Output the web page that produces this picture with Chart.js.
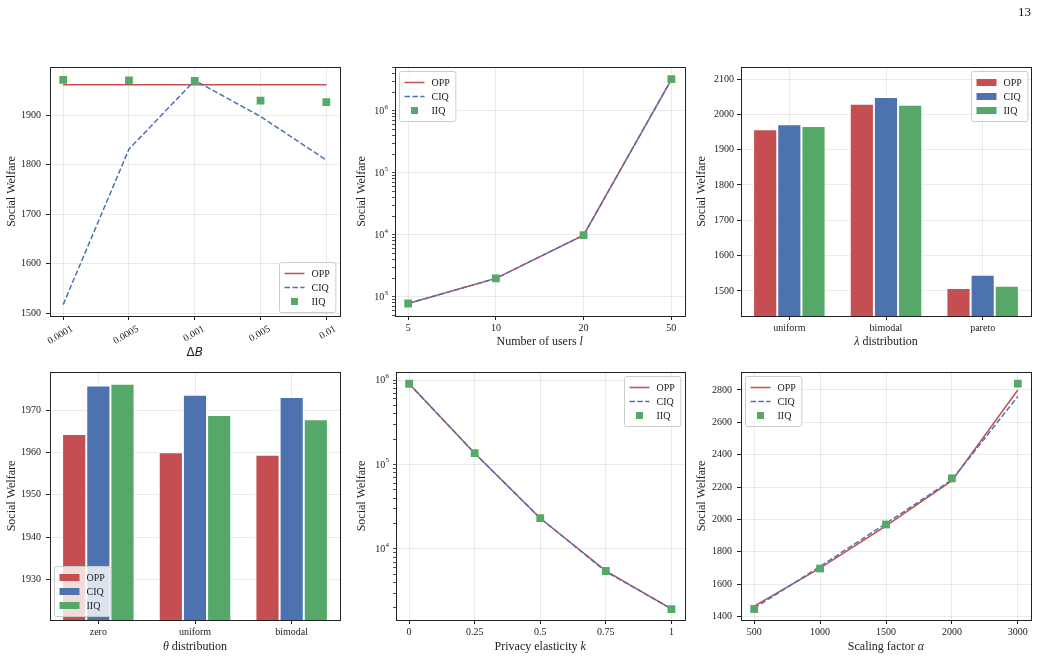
<!DOCTYPE html>
<html><head><meta charset="utf-8">
<script src="https://cdn.jsdelivr.net/npm/chart.js@4.4.1/dist/chart.umd.min.js"></script>
<style>
html,body{margin:0;padding:0;background:#fff;}
body{width:1039px;height:661px;position:relative;overflow:hidden;font-family:"Liberation Serif",serif;}
canvas{position:absolute;}
#pg{position:absolute;left:1018px;top:4px;font-size:13px;color:#111;will-change:transform;}
</style></head><body>
<div id="pg">13</div>
<canvas id="c1" width="345" height="320" style="left:0;top:40px"></canvas>
<canvas id="c2" width="345" height="320" style="left:345px;top:40px"></canvas>
<canvas id="c3" width="349" height="320" style="left:690px;top:40px"></canvas>
<canvas id="c4" width="345" height="301" style="left:0;top:360px"></canvas>
<canvas id="c5" width="345" height="301" style="left:345px;top:360px"></canvas>
<canvas id="c6" width="349" height="301" style="left:690px;top:360px"></canvas>
<script>
// ---------- data ----------
const deltaBLabels = ['0.0001','0.0005','0.001','0.005','0.01'];
const deltaB_OPP = [1961,1961,1961,1961,1961];
const deltaB_CIQ = [1517,1831,1970,1897,1809];
const deltaB_IIQ = [1971,1970,1969,1929,1926];
const deltaB_yTicks = [1500,1600,1700,1800,1900];

const usersLabels = ['5','10','20','50'];
const users_OPP = [780,1980,9900,3.2e6];
const users_CIQ = [780,1980,9900,3.2e6];
const users_IIQ = [780,1980,9900,3.25e6];

const lambdaLabels = ['uniform','bimodal','pareto'];
const lambda_OPP = [1958,2030,1508];
const lambda_CIQ = [1972,2049,1546];
const lambda_IIQ = [1967,2027,1515];
const lambda_yTicks = [1500,1600,1700,1800,1900,2000,2100];

const thetaLabels = ['zero','uniform','bimodal'];
const theta_OPP = [1964.4,1960.1,1959.5];
const theta_CIQ = [1975.9,1973.7,1973.2];
const theta_IIQ = [1976.3,1968.9,1967.9];
const theta_yTicks = [1930,1940,1950,1960,1970];

const kLabels = ['0','0.25','0.5','0.75','1'];
const k_OPP = [904000,136000,23100,5500,1950];
const k_CIQ = [904000,136000,23100,5400,1950];
const k_IIQ = [904000,136000,23100,5480,1940];

const alphaLabels = ['500','1000','1500','2000','3000'];
const alpha_OPP = [1465,1700,1960,2240,2800];
const alpha_CIQ = [1452,1710,1975,2245,2760];
const alpha_IIQ = [1447,1697,1969,2254,2839];
const alpha_yTicks = [1400,1600,1800,2000,2200,2400,2600,2800];

// ---------- style ----------
const SERIF = '"Liberation Serif","Times New Roman",serif';
const SANS = '"DejaVu Sans",sans-serif';
const RED='#C44E52', BLUE='#4C72B0', GREEN='#55A868';
const GRID='rgba(0,0,0,0.1)', INK='#222', NONE='rgba(0,0,0,0)';
const TICKFONT={family:SERIF,size:10};
const TITLEFONT={family:SERIF,size:12};

const framePlugin = {
  id:'frame',
  afterDraw(chart){
    const {ctx, chartArea:a} = chart;
    ctx.save(); ctx.strokeStyle='#222'; ctx.lineWidth=1;
    ctx.strokeRect(Math.round(a.left)+0.5, Math.round(a.top)+0.5, Math.round(a.right-a.left), Math.round(a.bottom-a.top));
    ctx.restore();
  }
};
const legendPlugin = {
  id:'inLegend',
  afterDraw(chart, args, o){
    if(!o || !o.corner) return;
    const ctx=chart.ctx, a=chart.chartArea;
    const fs=10, pad=4, hl=20, gap=7, rowH=14, m=4;
    ctx.save();
    ctx.font = fs+'px '+SERIF;
    const ds = chart.data.datasets;
    let tw=0; ds.forEach(d=>{tw=Math.max(tw, ctx.measureText(d.label).width);});
    const w = pad*2+2+hl+gap+tw+1, h = pad*2+rowH*ds.length;
    const x = Math.round(o.corner[1]==='l' ? a.left+m : a.right-m-w)+0.5;
    const y = Math.round(o.corner[0]==='u' ? a.top+m : a.bottom-m-h)+0.5;
    ctx.beginPath();
    if(ctx.roundRect) ctx.roundRect(x,y,w,h,2); else ctx.rect(x,y,w,h);
    ctx.fillStyle='rgba(255,255,255,0.8)'; ctx.fill();
    ctx.strokeStyle='#cccccc'; ctx.lineWidth=1; ctx.stroke();
    ds.forEach((d,i)=>{
      const cy = y+pad+rowH*(i+0.5);
      const hx = x+pad+1;
      if(chart.config.type==='bar'){
        ctx.fillStyle=d.backgroundColor; ctx.fillRect(hx, cy-3.5, hl, 7);
      } else if(d.showLine===false){
        ctx.fillStyle=d.backgroundColor; ctx.fillRect(hx+hl/2-3.5, cy-3.5, 7, 7);
      } else {
        ctx.strokeStyle=d.borderColor; ctx.lineWidth=d.borderWidth;
        ctx.setLineDash(d.borderDash||[]);
        ctx.beginPath(); ctx.moveTo(hx,cy); ctx.lineTo(hx+hl,cy); ctx.stroke();
        ctx.setLineDash([]);
      }
      ctx.fillStyle=INK; ctx.textBaseline='middle'; ctx.textAlign='left';
      ctx.fillText(d.label, hx+hl+gap, cy+0.5);
    });
    ctx.restore();
  }
};
// x-axis title with mixed upright / italic parts
const mixTitlePlugin = {
  id:'mixTitle',
  afterDraw(chart, args, o){
    if(!o || !o.parts) return;
    const ctx=chart.ctx, a=chart.chartArea;
    ctx.save(); ctx.textBaseline='middle'; ctx.textAlign='left'; ctx.fillStyle=INK;
    const fonts=o.parts.map(p=>(p.i?'italic ':'')+'12px '+(p.f||SERIF));
    let total=0;
    const ws=o.parts.map((p,i)=>{ctx.font=fonts[i];const w=ctx.measureText(p.t).width;total+=w;return w;});
    let x=(a.left+a.right)/2-total/2;
    const y=chart.height-o.fromBottom;
    o.parts.forEach((p,i)=>{ctx.font=fonts[i];ctx.fillText(p.t,x,y);x+=ws[i];});
    ctx.restore();
  }
};
// log-axis labels 10^n with a raised exponent
const logLabelPlugin = {
  id:'logLabels',
  afterDraw(chart){
    const s=chart.scales.y;
    if(!s || s.type!=='logarithmic') return;
    const ctx=chart.ctx;
    ctx.save(); ctx.fillStyle=INK; ctx.textBaseline='middle';
    s.ticks.forEach(t=>{
      if(!isPow10(t.value)) return;
      const y=s.getPixelForValue(t.value);
      const e=String(Math.round(Math.log10(t.value)));
      const xr=s.right-3-4;
      ctx.font='7px '+SERIF; const ew=ctx.measureText(e).width;
      ctx.textAlign='left'; ctx.fillText(e, xr-ew, y-4);
      ctx.font='10px '+SERIF; ctx.textAlign='right'; ctx.fillText('10', xr-ew-0.3, y+0.5);
    });
    ctx.restore();
  }
};

function isPow10(v){const e=Math.log10(v);return Math.abs(e-Math.round(e))<1e-9;}
function isNice(v){const p=Math.pow(10,Math.floor(Math.log10(v)+1e-12));const r=v/p;return Math.abs(r-Math.round(r))<1e-6;}

function yTitle(padTop){return {display:true,text:'Social Welfare',font:TITLEFONT,color:INK,padding:{top:padTop,bottom:0}};}

function yLinear(min,max,tickVals,width,labelPad,titlePad){
  return {type:'linear',min,max,
    ticks:{font:TICKFONT,color:INK,padding:labelPad,callback:v=>String(v)},
    afterBuildTicks(s){s.ticks=tickVals.map(v=>({value:v}));},
    grid:{color:GRID,lineWidth:0.8,tickColor:INK,tickLength:4,tickWidth:1},
    border:{display:false},
    title:yTitle(titlePad),
    afterFit(s){s.width=width;}};
}
function yLog(min,max,width,titlePad){
  return {type:'logarithmic',min,max,
    ticks:{autoSkip:false,font:TICKFONT,color:INK,callback:()=>''},
    grid:{color:c=>isPow10(c.tick.value)?GRID:NONE,lineWidth:0.8,
      tickColor:c=>isNice(c.tick.value)?INK:NONE,tickLength:3,tickWidth:0.8},
    border:{display:false},
    title:yTitle(titlePad),
    afterFit(s){s.width=width;}};
}
function xIndex(labels,margin,height,extra){
  const t={autoSkip:false,font:TICKFONT,color:INK,padding:2,
    callback(v){return Number.isInteger(v)?labels[v]:'';}};
  Object.assign(t, extra||{});
  return {type:'linear',min:-margin,max:labels.length-1+margin,
    ticks:t,
    afterBuildTicks(s){s.ticks=labels.map((_,i)=>({value:i}));},
    grid:{color:GRID,lineWidth:0.8,tickColor:INK,tickLength:4,tickWidth:1},
    border:{display:false},
    title:{display:false},
    afterFit(s){s.height=height;}};
}
function xCat(labels,height){
  return {type:'category',labels,offset:true,
    ticks:{font:TICKFONT,color:INK,padding:2},
    grid:{offset:false,color:GRID,lineWidth:0.8,tickColor:INK,tickLength:4,tickWidth:1},
    border:{display:false},
    title:{display:false},
    afterFit(s){s.height=height;}};
}
function lineSets(labels,opp,ciq,iiq){
  const pts=a=>labels.map((_,i)=>({x:i,y:a[i]}));
  return [
    {label:'OPP',data:pts(opp),borderColor:RED,backgroundColor:RED,borderWidth:1.5,pointRadius:0,tension:0,order:2},
    {label:'CIQ',data:pts(ciq),borderColor:BLUE,backgroundColor:BLUE,borderWidth:1.5,borderDash:[5.5,2.4],pointRadius:0,tension:0,order:1},
    {label:'IIQ',data:pts(iiq),showLine:false,pointStyle:'rect',pointRadius:5.5,pointHoverRadius:5.5,backgroundColor:GREEN,borderColor:GREEN,borderWidth:0,order:0}
  ];
}
function barSets(opp,ciq,iiq){
  const b=(label,data,c)=>({label,data,backgroundColor:c,borderColor:'#ffffff',borderWidth:1,categoryPercentage:0.75,barPercentage:1.0});
  return [b('OPP',opp,RED),b('CIQ',ciq,BLUE),b('IIQ',iiq,GREEN)];
}
function make(id,type,datasets,scales,padding,corner,title){
  return new Chart(document.getElementById(id),{
    type,data:{datasets},
    options:{responsive:false,animation:false,events:[],
      layout:{padding},
      plugins:{legend:{display:false},tooltip:{enabled:false},inLegend:{corner},mixTitle:title},
      scales},
    plugins:[framePlugin,legendPlugin,mixTitlePlugin,logLabelPlugin]});
}

// Panel 1: ΔB
make('c1','line',lineSets(deltaBLabels,deltaB_OPP,deltaB_CIQ,deltaB_IIQ),{
  x:xIndex(deltaBLabels,0.2,44,{minRotation:30,maxRotation:30,labelOffset:9,padding:3}),
  y:yLinear(1494,1997,deltaB_yTicks,50,5,5)
},{left:0,right:5,top:27,bottom:0},'lr',
{fromBottom:7,parts:[{t:'Δ',f:SANS},{t:'B',f:SANS,i:true}]});

// Panel 2: users
make('c2','line',lineSets(usersLabels,users_OPP,users_CIQ,users_IIQ),{
  x:xIndex(usersLabels,0.15,44),
  y:yLog(490,5.1e6,50,9.5)
},{left:0,right:5,top:27,bottom:0},'ul',
{fromBottom:18.3,parts:[{t:'Number of users '},{t:'l',i:true}]});

// Panel 3: λ distribution
make('c3','bar',barSets(lambda_OPP,lambda_CIQ,lambda_IIQ),{
  x:xCat(lambdaLabels,44),
  y:yLinear(1429,2134,lambda_yTicks,51,3,5)
},{left:0,right:8,top:27,bottom:0},'ur',
{fromBottom:18.3,parts:[{t:'λ',i:true},{t:' distribution'}]});

// Panel 4: θ distribution
make('c4','bar',barSets(theta_OPP,theta_CIQ,theta_IIQ),{
  x:xCat(thetaLabels,41),
  y:yLinear(1920.35,1979.1,theta_yTicks,50,5,5)
},{left:0,right:5,top:12,bottom:0},'ll',
{fromBottom:14.3,parts:[{t:'θ',i:true},{t:' distribution'}]});

// Panel 5: k
make('c5','line',lineSets(kLabels,k_OPP,k_CIQ,k_IIQ),{
  x:xIndex(kLabels,0.2,41),
  y:yLog(1440,1.245e6,51,9.5)
},{left:0,right:4,top:12,bottom:0},'ur',
{fromBottom:14.3,parts:[{t:'Privacy elasticity '},{t:'k',i:true}]});

// Panel 6: α
make('c6','line',lineSets(alphaLabels,alpha_OPP,alpha_CIQ,alpha_IIQ),{
  x:xIndex(alphaLabels,0.2,41),
  y:yLinear(1379,2911,alpha_yTicks,51,5,5)
},{left:0,right:8,top:12,bottom:0},'ul',
{fromBottom:14.3,parts:[{t:'Scaling factor '},{t:'α',i:true}]});
</script>
</body></html>
